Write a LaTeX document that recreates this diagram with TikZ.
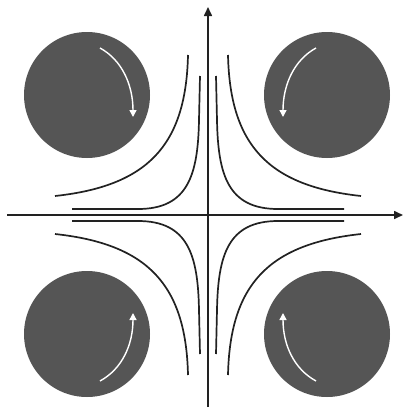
\documentclass[tikz,border=0pt]{standalone}
\usetikzlibrary{arrows.meta}
\definecolor{discgray}{HTML}{555555}
\definecolor{inkline}{HTML}{222222}
\newcommand{\qcurves}{%
  \draw[flow] (153,19) .. controls (60,29) and (22,70) .. (20,160);
  \draw[flow] (136,6) -- (70,6) .. controls (20,6) and (10,40) .. (9,95) -- (8,139);
}
\begin{document}
\begin{tikzpicture}[x=1pt,y=-1pt,
  disc/.style={fill=discgray},
  flow/.style={line width=1.7pt, color=inkline},
  axisline/.style={line width=1.6pt, color=inkline, -{Triangle[length=9pt,width=8pt]}},
  spin/.style={line width=1.4pt, white, -{Triangle[length=7pt,width=7pt]}}]
\useasboundingbox (0,0) rectangle (404,410);
% discs
\fill[disc] (87,95) circle[radius=63];
\fill[disc] (327,95) circle[radius=63];
\fill[disc] (87,334) circle[radius=63];
\fill[disc] (327,334) circle[radius=63];
% rotation arrows
\draw[spin] (100,48) .. controls (122,60) and (133,85) .. (133,117);
\draw[spin] (316,48) .. controls (294,60) and (283,85) .. (283,117);
\draw[spin] (100,381) .. controls (122,369) and (133,345) .. (133,313);
\draw[spin] (316,381) .. controls (294,369) and (283,345) .. (283,313);
% streamlines
\begin{scope}[shift={(208,215)},xscale=-1,yscale=-1]\qcurves\end{scope}
\begin{scope}[shift={(208,215)},yscale=-1]\qcurves\end{scope}
\begin{scope}[shift={(208,215)},xscale=-1]\qcurves\end{scope}
\begin{scope}[shift={(208,215)}]\qcurves\end{scope}
% axes
\coordinate (xs) at (7,215);
\coordinate (xe) at (403,215);
\coordinate (ys) at (208,407);
\coordinate (ye) at (208,7);
\draw[axisline] (xs) -- (xe);
\draw[axisline] (ys) -- (ye);
\end{tikzpicture}
\end{document}
